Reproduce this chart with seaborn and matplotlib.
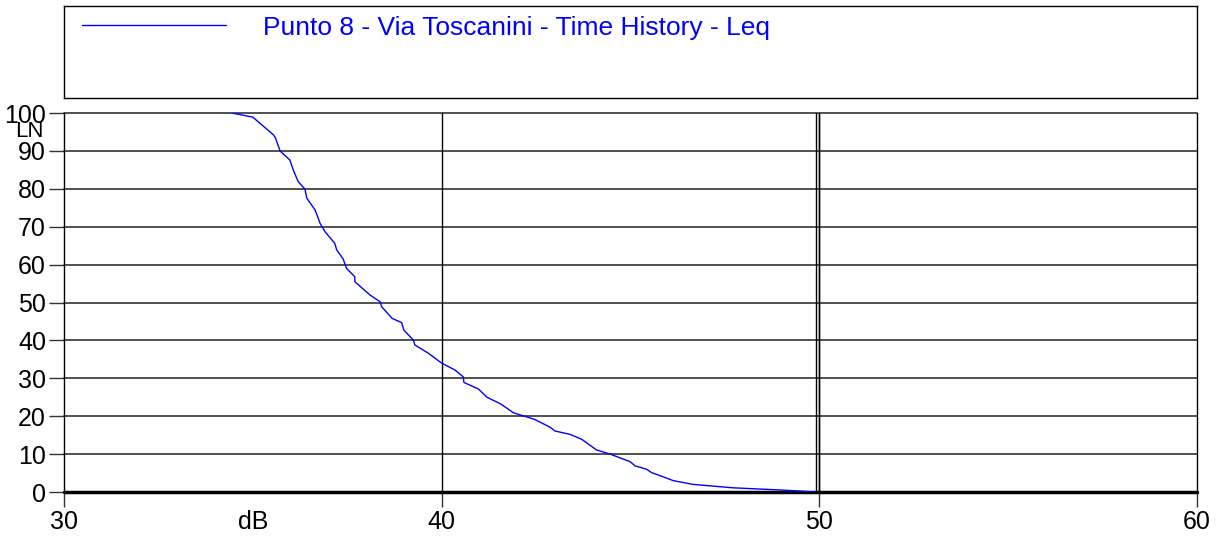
import seaborn as sns
import matplotlib.pyplot as plt
import pandas as pd

# LN curve (level in dB, percent of time exceeded)
level_db = [34.45, 35.0, 35.55, 35.6, 35.72, 35.98, 36.07, 36.2, 36.38,
            36.43, 36.65, 36.78, 36.91, 37.17, 37.22, 37.39, 37.48, 37.70, 37.70,
            38.10, 38.37, 38.41, 38.69, 38.94, 39.0, 39.25, 39.29, 39.65, 40.0,
            40.35, 40.57, 40.59, 40.97, 41.2, 41.57, 41.9, 42.45, 42.87, 43.0,
            43.4, 43.71, 44.1, 44.46, 44.99, 45.12, 45.43, 45.56, 45.87, 46.13,
            46.66, 47.72, 49.05, 49.9]
ln_pct = [100, 98.9, 94.2, 93.4, 90.0, 87.6, 85.0, 81.9, 79.9,
          77.5, 74.4, 70.9, 68.7, 65.6, 63.9, 61.5, 59.0, 56.8, 55.5,
          52.0, 50.2, 48.9, 45.8, 44.7, 42.7, 40.1, 38.8, 36.6, 34.0,
          32.2, 30.4, 28.9, 27.2, 25.0, 23.2, 20.9, 19.2, 17.1, 16.1,
          15.2, 13.9, 11.1, 10.0, 8.0, 6.9, 6.0, 5.1, 4.0, 3.0,
          2.0, 1.1, 0.5, 0.0]

x_ticks = [30, 40, 50, 60]
y_ticks = [0, 10, 20, 30, 40, 50, 60, 70, 80, 90, 100]
marker_lines = [49.9, 50]
series_name = 'Punto 8 - Via Toscanini - Time History - Leq'

sns.set_style('white')
plt.rcParams['font.family'] = ['Liberation Sans', 'DejaVu Sans']

df = pd.DataFrame({'dB': level_db, 'LN': ln_pct})

fig = plt.figure(figsize=(12.2, 5.37), dpi=100)
ax = fig.add_axes([64 / 1220, 45 / 537, 1133 / 1220, 379 / 537])

# grid lines
for y in y_ticks:
    ax.axhline(y, color='#333333', lw=1.2, zorder=1, clip_on=False)
for x in x_ticks[1:]:
    ax.axvline(x, color='black', lw=1.0, zorder=1, clip_on=False)
for x in marker_lines:
    ax.axvline(x, color='black', lw=1.0, zorder=1)

sns.lineplot(data=df, x='dB', y='LN', sort=False, estimator=None,
             color='#0000ff', lw=1.0, ax=ax, zorder=3)

ax.axhline(0, color='black', lw=2.5, zorder=2, clip_on=False)

ax.set_xlim(30, 60)
ax.set_ylim(0, 100)
ax.set_xticks(x_ticks)
ax.set_yticks(y_ticks)
ax.tick_params(axis='both', labelsize=18, length=11, width=1.0, pad=2,
               color='#333333', labelcolor='black', direction='out',
               bottom=True, left=True)
for s in ['top', 'right', 'bottom']:
    ax.spines[s].set_visible(False)
ax.spines['left'].set_color('black')
ax.spines['left'].set_linewidth(1.0)
ax.set_xlabel('')
ax.set_ylabel('')
ax.text(-0.031, 0.95, 'LN', transform=ax.transAxes, fontsize=16,
        ha='center', va='center', color='black')
ax.text(35.0, -0.08, 'dB', transform=ax.get_xaxis_transform(), fontsize=18,
        ha='center', va='center', color='black')

# legend box on top
lax = fig.add_axes([64 / 1220, 439 / 537, 1133 / 1220, 92 / 537])
lax.set_xticks([])
lax.set_yticks([])
for s in lax.spines.values():
    s.set_color('black')
    s.set_linewidth(1.0)
leg = lax.legend([ax.lines[-2]], [series_name], loc='upper left',
                 frameon=False, fontsize=19, handlelength=5.45,
                 handletextpad=1.4, borderaxespad=0.0,
                 bbox_to_anchor=(0.007, 1.01))
for t in leg.get_texts():
    t.set_color('#0000ff')

fig.savefig('out.png', dpi=100)
